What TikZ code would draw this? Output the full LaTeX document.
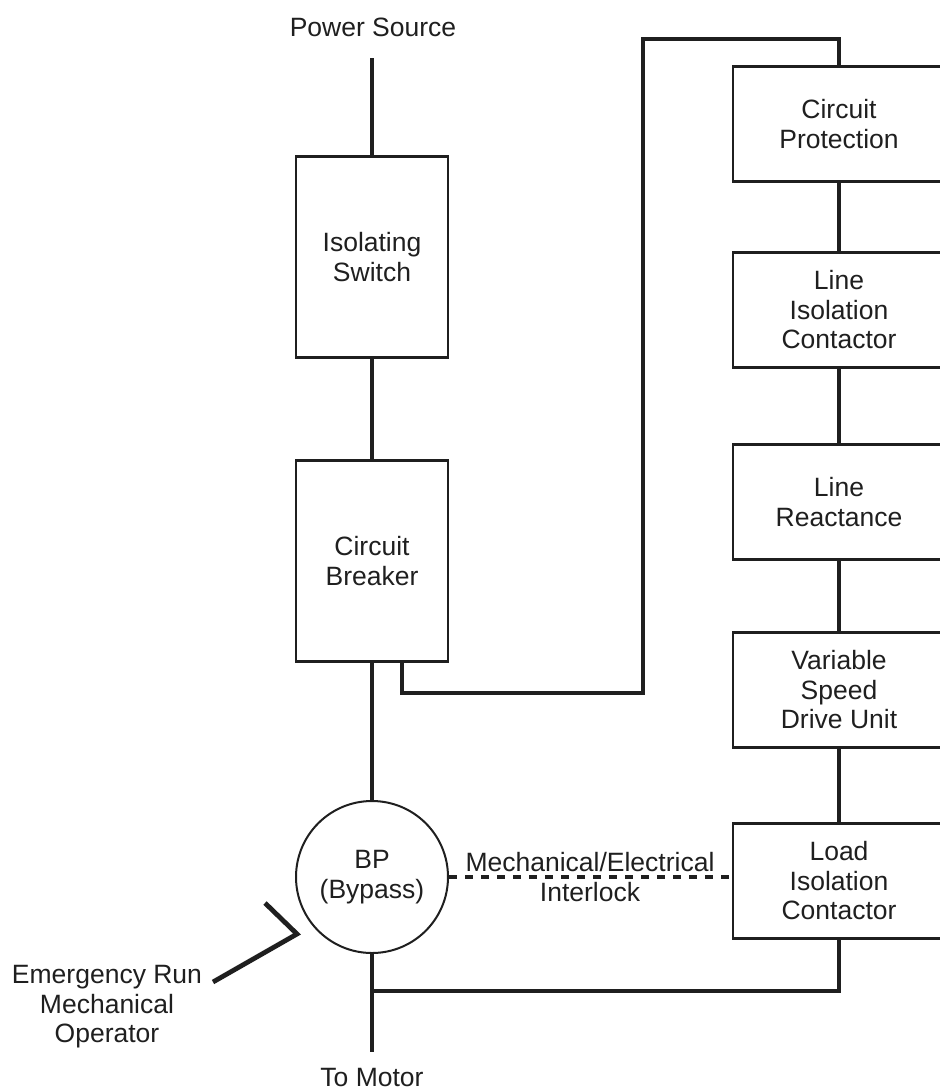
\documentclass[tikz,border=0pt]{standalone}
\usepackage{fontspec}
\setmainfont{Liberation Sans}
\begin{document}
\begin{tikzpicture}[x=1bp,y=-1bp,
  txt/.style={font=\fontsize{26.5bp}{29.5bp}\selectfont, align=center, inner sep=0pt, text=black!88},
  lbox/.style={txt, draw=black!88, line width=2.2bp, minimum width=152bp, minimum height=201bp},
  rbox/.style={txt, draw=black!88, line width=2.2bp, minimum width=212bp, minimum height=115bp},
  wire/.style={draw=black!88, line width=4.8bp},
  ilock/.style={draw=black!88, line width=4bp, dash pattern=on 8bp off 8bp},
  bpcirc/.style={txt, circle, draw=black!88, line width=2bp, minimum size=152bp}]
\useasboundingbox (0,0) rectangle (940,1090);
\clip (0,0) rectangle (940,1090);
% nodes
\node[txt] (ps) at (373,27) {Power Source};
\node[lbox] (isw) at (372,257) {Isolating\\Switch};
\node[lbox] (cb) at (372,561) {Circuit\\Breaker};
\node[rbox] (cp) at (839,124) {Circuit\\Protection};
\node[rbox] (lic) at (839,310) {Line\\Isolation\\Contactor};
\node[rbox] (lr) at (839,502) {Line\\Reactance};
\node[rbox] (vsd) at (839,690) {Variable\\Speed\\Drive Unit};
\node[rbox] (loadic) at (839,881) {Load\\Isolation\\Contactor};
\node[bpcirc] (bp) at (372,877) {BP\\(Bypass)};
\node[txt] (il) at (590,877) {Mechanical/Electrical\\Interlock};
\node[txt] (erm) at (107,1007) {Emergency Run\\Mechanical\\Operator};
\node[txt] (tm) at (372,1077) {To Motor};
% coordinates
\coordinate (pstop) at (372,58);
\coordinate (b1) at (643,693);
\coordinate (b2) at (643,39);
\coordinate (j) at (372,991);
\coordinate (mend) at (372,1052);
\coordinate (e1) at (213,982);
\coordinate (e2) at (297,934);
\coordinate (e3) at (265,903);
% connectors
\draw[wire] (pstop) -- (isw.north);
\draw[wire] (isw.south) -- (cb.north);
\draw[wire] (cb.south) -- (bp.north);
\draw[wire] ([xshift=30bp]cb.south) |- (b1) -- (b2) -| (cp.north);
\draw[wire] (cp.south) -- (lic.north);
\draw[wire] (lic.south) -- (lr.north);
\draw[wire] (lr.south) -- (vsd.north);
\draw[wire] (vsd.south) -- (loadic.north);
\draw[wire] (loadic.south) |- (j);
\draw[wire] (bp.south) -- (mend);
\draw[ilock] (bp.east) -- (bp.east -| loadic.west);
\draw[wire] (e1) -- (e2) -- (e3);
\end{tikzpicture}
\end{document}
